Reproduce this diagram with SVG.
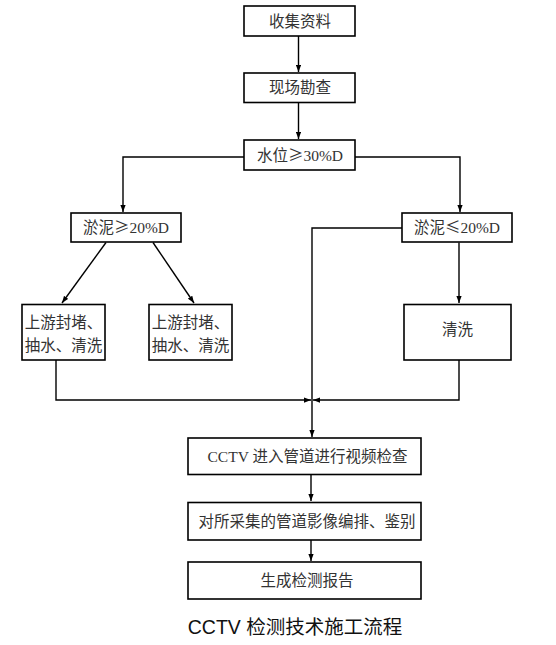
<svg xmlns="http://www.w3.org/2000/svg" width="556" height="645" viewBox="0 0 556 645">
<style>
.box{fill:#fff;stroke:#000;stroke-width:1.6}
.t{font-family:"Liberation Serif","Noto Sans CJK SC",serif;font-size:15.5px;fill:#333;text-anchor:middle}
.s{font-family:"Noto Sans CJK SC",sans-serif}
.c{fill:none;stroke:#000;stroke-width:1.4}
.title{font-family:"Liberation Sans","Noto Sans CJK SC",sans-serif;font-size:19.5px;fill:#111;text-anchor:middle}
</style>
<defs>
<marker id="ah" viewBox="0 0 8 6" refX="8" refY="3" markerWidth="7" markerHeight="5.5" markerUnits="userSpaceOnUse" orient="auto">
<path d="M0,0 L8,3 L0,6 z" fill="#000"/>
</marker>
</defs>
<rect width="556" height="645" fill="#fff"/>
<g id="connectors">
<path class="c" d="M298.5,36 V72" marker-end="url(#ah)"/>
<path class="c" d="M298.5,102.5 V139" marker-end="url(#ah)"/>
<path class="c" d="M244,157 H123 V212" marker-end="url(#ah)"/>
<path class="c" d="M355,157 H460 V212" marker-end="url(#ah)"/>
<path class="c" d="M402,228 H312 V437" marker-end="url(#ah)"/>
<path class="c" d="M106,242.5 L62,303" marker-end="url(#ah)"/>
<path class="c" d="M153,242.5 L194,303" marker-end="url(#ah)"/>
<path class="c" d="M459,242.5 V303" marker-end="url(#ah)"/>
<path class="c" d="M56,360 V400 H311" marker-end="url(#ah)"/>
<path class="c" d="M459,360 V400 H313" marker-end="url(#ah)"/>
<path class="c" d="M311,474.5 V501" marker-end="url(#ah)"/>
<path class="c" d="M311,540 V561" marker-end="url(#ah)"/>
</g>
<g id="n1"><rect class="box" x="244" y="6" width="111" height="30"/><text class="t" x="300" y="26.5">收集资料</text></g>
<g id="n2"><rect class="box" x="244" y="73" width="111" height="29.5"/><text class="t" x="300" y="93">现场勘查</text></g>
<g id="n3"><rect class="box" x="244" y="140" width="111" height="30"/><text class="t" x="300" y="160.5">水位<tspan class="s">≥</tspan>30%D</text></g>
<g id="n4"><rect class="box" x="71" y="213" width="110" height="29"/><text class="t" x="126" y="233">淤泥<tspan class="s">≥</tspan>20%D</text></g>
<g id="n5"><rect class="box" x="402" y="213" width="110" height="29"/><text class="t" x="457" y="233">淤泥<tspan class="s">≤</tspan>20%D</text></g>
<g id="n6"><rect class="box" x="22" y="304.5" width="83" height="55.5"/><text class="t" x="63.5" y="327.5">上游封堵、</text><text class="t" x="63.5" y="351">抽水、清洗</text></g>
<g id="n7"><rect class="box" x="149" y="304.5" width="83" height="55.5"/><text class="t" x="190.5" y="327.5">上游封堵、</text><text class="t" x="190.5" y="351">抽水、清洗</text></g>
<g id="n8"><rect class="box" x="404" y="304.5" width="107" height="55.5"/><text class="t" x="457.5" y="335">清洗</text></g>
<g id="n9"><rect class="box" x="188" y="438" width="233" height="36.5"/><text class="t" x="307.5" y="462">CCTV 进入管道进行视频检查</text></g>
<g id="n10"><rect class="box" x="188" y="502.5" width="233" height="37.5"/><text class="t" x="307" y="527">对所采集的管道影像编排、鉴别</text></g>
<g id="n11"><rect class="box" x="188" y="562" width="233" height="37"/><text class="t" x="307" y="586">生成检测报告</text></g>
<text class="title" x="295" y="634">CCTV 检测技术施工流程</text>
</svg>
